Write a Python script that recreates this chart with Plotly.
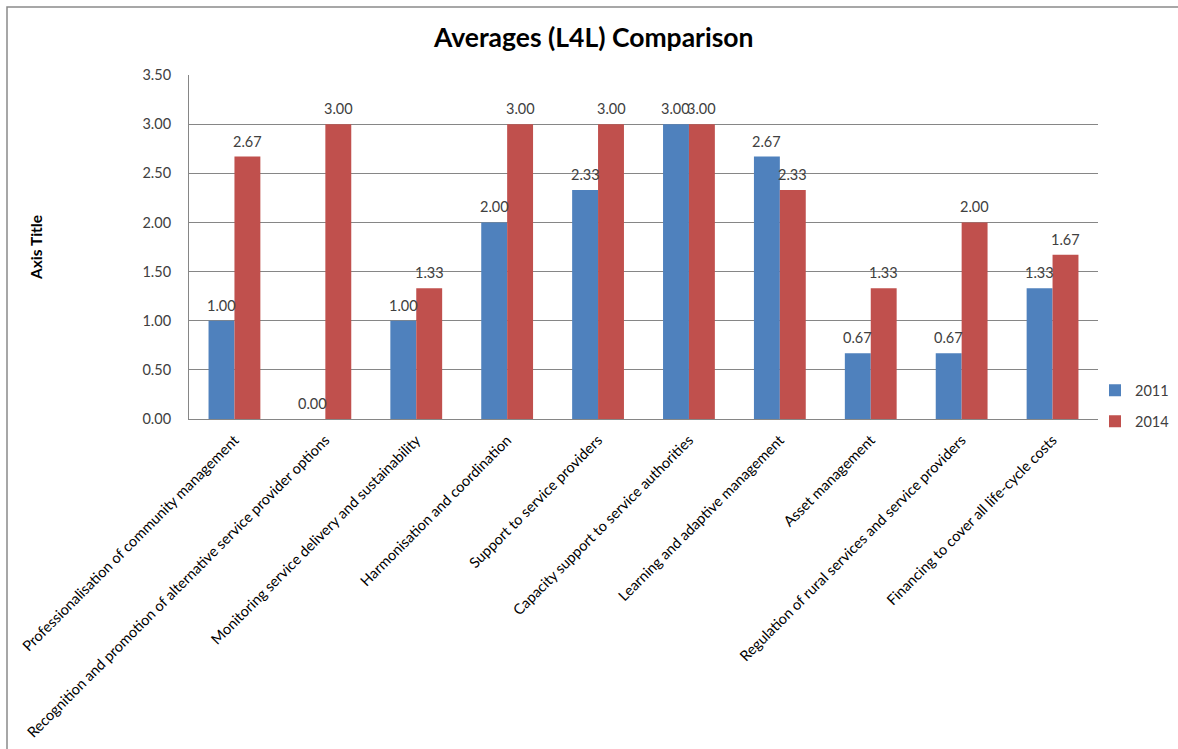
import plotly.graph_objects as go

categories = [
    "Professionalisation of community management",
    "Recognition and promotion of alternative service provider options",
    "Monitoring service delivery and sustainability",
    "Harmonisation and coordination",
    "Support to service providers",
    "Capacity support to service authorities",
    "Learning and adaptive management",
    "Asset management",
    "Regulation of rural services and service providers",
    "Financing to cover all life-cycle costs",
]
values_2011 = [1.00, 0.00, 1.00, 2.00, 2.33, 3.00, 2.67, 0.67, 0.67, 1.33]
values_2014 = [2.67, 3.00, 1.33, 3.00, 3.00, 3.00, 2.33, 1.33, 2.00, 1.67]
y_ticks = [0, 0.5, 1.0, 1.5, 2.0, 2.5, 3.0, 3.5]

FONT = "Lato"
TEXT_COLOR = "#404040"
BAR_PX = 26  # rendered width of one bar, used to centre the value labels

series = [("2011", values_2011, "#4F81BD", -BAR_PX / 2),
          ("2014", values_2014, "#C0504D", BAR_PX / 2)]

fig = go.Figure()
for name, vals, color, _ in series:
    fig.add_trace(go.Bar(
        name=name, x=categories, y=vals,
        marker=dict(color=color, line=dict(width=0)),
        legendgroup=name,
    ))

# value labels above each bar
for name, vals, color, shift in series:
    for cat, v in zip(categories, vals):
        fig.add_annotation(
            x=cat, y=v, xref="x", yref="y", text=f"{v:.2f}",
            showarrow=False, xanchor="center", yanchor="bottom",
            xshift=shift, yshift=5,
            font=dict(family=FONT, size=14.5, color=TEXT_COLOR),
        )

fig.update_layout(
    width=1178, height=749,
    margin=dict(l=189, r=80, t=75, b=330, autoexpand=False),
    paper_bgcolor="white", plot_bgcolor="white",
    barmode="group", bargap=0.43, bargroupgap=0,
    font=dict(family=FONT, size=14, color=TEXT_COLOR),
    title=dict(text="<b>Averages (L4L) Comparison</b>",
               font=dict(family=FONT, size=26.5, color="black"),
               x=0.504, xanchor="center", y=1 - 38 / 749, yanchor="middle",
               yref="container"),
    legend=dict(x=0.9967, xanchor="left", y=0.038, yanchor="middle",
                font=dict(family=FONT, size=14.5, color=TEXT_COLOR),
                tracegroupgap=9, bgcolor="rgba(0,0,0,0)", borderwidth=0),
    showlegend=True,
)

fig.update_xaxes(
    tickangle=-45, showline=True, linecolor="#868686", linewidth=1,
    showgrid=False, ticks="", ticklabelstandoff=6, automargin=False,
    tickfont=dict(family=FONT, size=14.6, color="black"),
)
fig.update_yaxes(
    range=[0, 3.5], tickvals=y_ticks, ticktext=[f"{v:.2f}" for v in y_ticks],
    showline=True, linecolor="#868686", linewidth=1,
    showgrid=True, gridcolor="#868686", gridwidth=1, zeroline=False,
    ticks="outside", ticklen=14, tickcolor="rgba(0,0,0,0)", automargin=False,
    tickfont=dict(family=FONT, size=14.5, color=TEXT_COLOR),
    title=dict(text="<b>Axis Title</b>", standoff=96,
               font=dict(family=FONT, size=15.5, color="black")),
)

# Outer chart frame (its right and bottom edges fall outside the page)
fig.add_shape(type="rect", xref="paper", yref="paper",
              x0=(7 - 189) / 909, x1=(1220 - 189) / 909,
              y0=(419 - 800) / 344, y1=(419 - 7) / 344,
              line=dict(color="#8a8a8a", width=1.5), layer="below")

fig.write_html("out.html")
